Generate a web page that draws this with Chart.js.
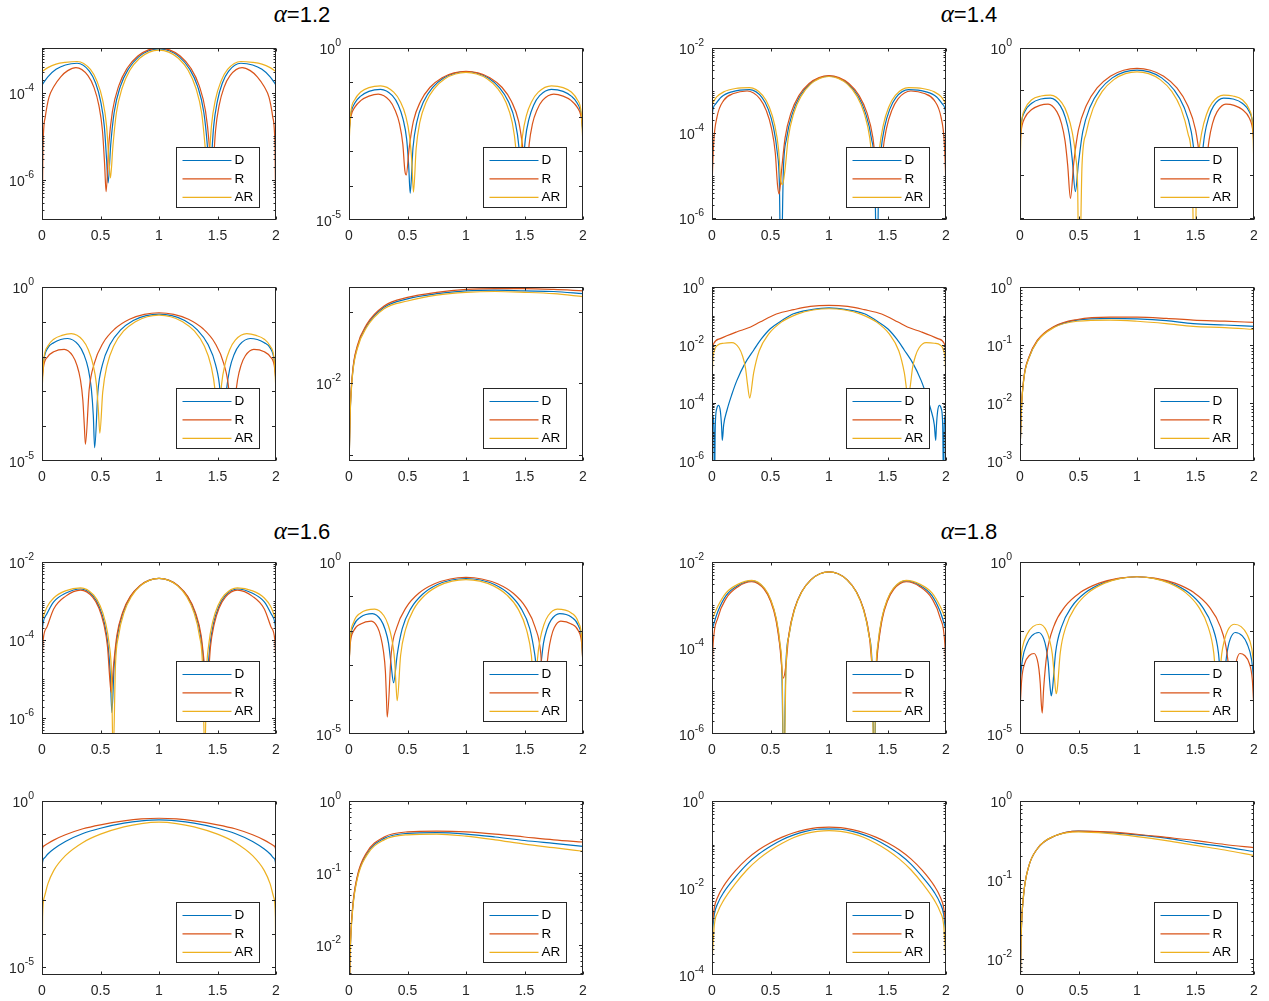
<!DOCTYPE html>
<html>
<head>
<meta charset="utf-8">
<title>D / R / AR panels</title>
<script src="https://cdn.jsdelivr.net/npm/chart.js@4.4.1/dist/chart.umd.min.js"></script>
<style>
  html, body { margin: 0; padding: 0; background: #fff; }
  #page { position: relative; width: 1269px; height: 1001px; overflow: hidden; background: #fff; }
  .panel { position: absolute; }
  .ttl { position: absolute; width: 200px; text-align: center; font: 22px "Liberation Sans", Arial, sans-serif; color: #000; line-height: 26px; }
  .ttl i { font-family: "Liberation Serif", "DejaVu Serif", serif; font-size: 25px; }
</style>
</head>
<body>
<div id="page">
  <div class="ttl" style="left:202px;top:1px"><i>α</i>=1.2</div>
  <div class="ttl" style="left:869px;top:1px"><i>α</i>=1.4</div>
  <div class="ttl" style="left:202px;top:518px"><i>α</i>=1.6</div>
  <div class="ttl" style="left:869px;top:518px"><i>α</i>=1.8</div>
</div>
<script>
// ---- data ----
const seriesNames = ["D", "R", "AR"];
const xTicks = [0, 0.5, 1, 1.5, 2];
const xTickLabels = ["0", "0.5", "1", "1.5", "2"];

// alpha = 1.2
const a12_1_D = [[0,1.51e-4],[0.05,2.34e-4],[0.12,3.47e-4],[0.2,4.37e-4],[0.3,4.79e-4],[0.406,3.13e-4],[0.459,1.66e-4],[0.501,6.49e-5],[0.533,1.68e-5],[0.552,2.95e-6],[0.565,8.5e-7],[0.587,6.31e-6],[0.617,3.59e-5],[0.669,1.39e-4],[0.739,3.54e-4],[0.826,6.7e-4],[0.913,9.25e-4],[1,1.02e-3],[1.087,9.25e-4],[1.174,6.7e-4],[1.261,3.54e-4],[1.331,1.39e-4],[1.383,3.59e-5],[1.413,6.31e-6],[1.435,8.5e-7],[1.448,2.95e-6],[1.467,1.68e-5],[1.499,6.49e-5],[1.541,1.66e-4],[1.594,3.13e-4],[1.7,4.79e-4],[1.8,4.37e-4],[1.88,3.47e-4],[1.95,2.34e-4],[2,1.51e-4]];
const a12_1_R = [[0,3e-8],[0.008,5.01e-6],[0.028,2.82e-5],[0.06,7.94e-5],[0.1,1.38e-4],[0.16,2.34e-4],[0.22,3.24e-4],[0.29,3.8e-4],[0.393,2.49e-4],[0.445,1.32e-4],[0.486,5.15e-5],[0.517,1.33e-5],[0.535,2.34e-6],[0.548,5.37e-7],[0.571,6.61e-6],[0.602,3.76e-5],[0.656,1.45e-4],[0.729,3.71e-4],[0.819,7.01e-4],[0.91,9.68e-4],[1,1.07e-3],[1.09,9.68e-4],[1.181,7.01e-4],[1.271,3.71e-4],[1.344,1.45e-4],[1.398,3.76e-5],[1.429,6.61e-6],[1.452,5.37e-7],[1.465,2.34e-6],[1.483,1.33e-5],[1.514,5.15e-5],[1.555,1.32e-4],[1.607,2.49e-4],[1.71,3.8e-4],[1.78,3.24e-4],[1.84,2.34e-4],[1.9,1.38e-4],[1.94,7.94e-5],[1.972,2.82e-5],[1.992,5.01e-6],[2,3e-8]];
const a12_1_AR = [[0,3.09e-4],[0.05,3.8e-4],[0.12,4.57e-4],[0.2,5.01e-4],[0.3,5.25e-4],[0.414,3.44e-4],[0.471,1.82e-4],[0.517,7.11e-5],[0.551,1.84e-5],[0.571,3.24e-6],[0.585,1.12e-6],[0.606,5.89e-6],[0.635,3.35e-5],[0.685,1.29e-4],[0.751,3.3e-4],[0.834,6.25e-4],[0.917,8.63e-4],[1,9.55e-4],[1.083,8.63e-4],[1.166,6.25e-4],[1.249,3.3e-4],[1.315,1.29e-4],[1.365,3.35e-5],[1.394,5.89e-6],[1.415,1.12e-6],[1.429,3.24e-6],[1.449,1.84e-5],[1.483,7.11e-5],[1.529,1.82e-4],[1.586,3.44e-4],[1.7,5.25e-4],[1.8,5.01e-4],[1.88,4.57e-4],[1.95,3.8e-4],[2,3.09e-4]];

const a12_2_D = [[0,3.16e-3],[0.015,1.12e-2],[0.05,2.51e-2],[0.1,3.98e-2],[0.17,5.5e-2],[0.27,6.31e-2],[0.371,4.13e-2],[0.422,2.18e-2],[0.462,8.55e-3],[0.493,2.21e-3],[0.51,3.89e-4],[0.523,6.03e-5],[0.547,1.26e-3],[0.58,7.16e-3],[0.638,2.77e-2],[0.714,7.06e-2],[0.809,1.34e-1],[0.905,1.85e-1],[1,2.04e-1],[1.095,1.85e-1],[1.191,1.34e-1],[1.286,7.06e-2],[1.362,2.77e-2],[1.42,7.16e-3],[1.453,1.26e-3],[1.477,6.03e-5],[1.49,3.89e-4],[1.507,2.21e-3],[1.538,8.55e-3],[1.578,2.18e-2],[1.629,4.13e-2],[1.73,6.31e-2],[1.83,5.5e-2],[1.9,3.98e-2],[1.95,2.51e-2],[1.985,1.12e-2],[2,3.16e-3]];
const a12_2_R = [[0,3.98e-3],[0.015,1e-2],[0.05,1.91e-2],[0.1,2.95e-2],[0.17,3.98e-2],[0.25,4.57e-2],[0.346,2.99e-2],[0.393,1.58e-2],[0.432,6.19e-3],[0.46,1.6e-3],[0.477,2.82e-4],[0.489,2.04e-4],[0.515,1.29e-3],[0.55,7.33e-3],[0.612,2.83e-2],[0.693,7.23e-2],[0.796,1.37e-1],[0.898,1.89e-1],[1,2.09e-1],[1.102,1.89e-1],[1.204,1.37e-1],[1.307,7.23e-2],[1.388,2.83e-2],[1.45,7.33e-3],[1.485,1.29e-3],[1.511,2.04e-4],[1.523,2.82e-4],[1.54,1.6e-3],[1.568,6.19e-3],[1.607,1.58e-2],[1.654,2.99e-2],[1.75,4.57e-2],[1.83,3.98e-2],[1.9,2.95e-2],[1.95,1.91e-2],[1.985,1e-2],[2,3.98e-3]];
const a12_2_AR = [[0,1.58e-3],[0.015,1.26e-2],[0.05,3.16e-2],[0.1,5.25e-2],[0.17,7.08e-2],[0.27,7.94e-2],[0.382,5.2e-2],[0.439,2.75e-2],[0.484,1.08e-2],[0.517,2.79e-3],[0.537,4.9e-4],[0.551,6.46e-5],[0.574,1.2e-3],[0.605,6.84e-3],[0.659,2.64e-2],[0.731,6.75e-2],[0.82,1.28e-1],[0.91,1.76e-1],[1,1.95e-1],[1.09,1.76e-1],[1.18,1.28e-1],[1.269,6.75e-2],[1.341,2.64e-2],[1.395,6.84e-3],[1.426,1.2e-3],[1.449,6.46e-5],[1.463,4.9e-4],[1.483,2.79e-3],[1.516,1.08e-2],[1.561,2.75e-2],[1.618,5.2e-2],[1.73,7.94e-2],[1.83,7.08e-2],[1.9,5.25e-2],[1.95,3.16e-2],[1.985,1.26e-2],[2,1.58e-3]];

const a12_3_D = [[0,2.51e-3],[0.015,7.94e-3],[0.05,1.78e-2],[0.1,2.51e-2],[0.16,3.09e-2],[0.22,3.31e-2],[0.312,2.17e-2],[0.358,1.15e-2],[0.395,4.49e-3],[0.422,1.16e-3],[0.4385,2.04e-4],[0.45,2.4e-5],[0.478,1.02e-3],[0.516,5.82e-3],[0.582,2.25e-2],[0.67,5.74e-2],[0.78,1.09e-1],[0.89,1.5e-1],[1,1.66e-1],[1.11,1.5e-1],[1.22,1.09e-1],[1.33,5.74e-2],[1.418,2.25e-2],[1.484,5.82e-3],[1.522,1.02e-3],[1.55,2.4e-5],[1.5615,2.04e-4],[1.578,1.16e-3],[1.605,4.49e-3],[1.642,1.15e-2],[1.688,2.17e-2],[1.78,3.31e-2],[1.84,3.09e-2],[1.9,2.51e-2],[1.95,1.78e-2],[1.985,7.94e-3],[2,2.51e-3]];
const a12_3_R = [[0,2e-3],[0.015,5.62e-3],[0.05,1e-2],[0.1,1.38e-2],[0.19,1.62e-2],[0.262,1.06e-2],[0.299,5.61e-3],[0.328,2.2e-3],[0.349,5.69e-4],[0.362,1e-4],[0.371,3.02e-5],[0.403,1.12e-3],[0.447,6.38e-3],[0.522,2.47e-2],[0.623,6.3e-2],[0.748,1.19e-1],[0.874,1.64e-1],[1,1.82e-1],[1.126,1.64e-1],[1.252,1.19e-1],[1.377,6.3e-2],[1.478,2.47e-2],[1.553,6.38e-3],[1.597,1.12e-3],[1.629,3.02e-5],[1.638,1e-4],[1.651,5.69e-4],[1.672,2.2e-3],[1.701,5.61e-3],[1.738,1.06e-2],[1.81,1.62e-2],[1.9,1.38e-2],[1.95,1e-2],[1.985,5.62e-3],[2,2e-3]];
const a12_3_AR = [[0,1e-3],[0.015,7.94e-3],[0.05,2e-2],[0.1,3.16e-2],[0.17,4.07e-2],[0.25,4.57e-2],[0.348,2.99e-2],[0.396,1.58e-2],[0.435,6.19e-3],[0.465,1.6e-3],[0.482,2.82e-4],[0.494,6.31e-5],[0.519,9.55e-4],[0.555,5.43e-3],[0.615,2.1e-2],[0.696,5.36e-2],[0.798,1.01e-1],[0.899,1.4e-1],[1,1.55e-1],[1.101,1.4e-1],[1.202,1.01e-1],[1.304,5.36e-2],[1.385,2.1e-2],[1.445,5.43e-3],[1.481,9.55e-4],[1.506,6.31e-5],[1.518,2.82e-4],[1.535,1.6e-3],[1.565,6.19e-3],[1.604,1.58e-2],[1.652,2.99e-2],[1.75,4.57e-2],[1.83,4.07e-2],[1.9,3.16e-2],[1.95,2e-2],[1.985,7.94e-3],[2,1e-3]];

const a12_4_x = [0,0.01,0.03,0.07,0.15,0.3,0.5,0.75,1,1.25,1.5,1.75,2];
const a12_4_D = [6.31e-4,3.8e-3,1.35e-2,3.16e-2,6.31e-2,1.15e-1,1.51e-1,1.78e-1,1.95e-1,2e-1,1.95e-1,1.91e-1,1.78e-1];
const a12_4_R = [6.31e-4,3.98e-3,1.41e-2,3.31e-2,6.61e-2,1.2e-1,1.58e-1,1.86e-1,2.04e-1,2.09e-1,2.09e-1,2.04e-1,1.95e-1];
const a12_4_AR = [6.31e-4,3.63e-3,1.29e-2,3.02e-2,6.03e-2,1.1e-1,1.41e-1,1.7e-1,1.86e-1,1.91e-1,1.86e-1,1.78e-1,1.62e-1];

// alpha = 1.4
const a14_1_D = [[0,1.78e-4],[0.005,3.16e-4],[0.03,4.79e-4],[0.08,7.08e-4],[0.17,9.33e-4],[0.32,1.05e-3],[0.428,6.85e-4],[0.481,3.62e-4],[0.524,1.42e-4],[0.557,3.67e-5],[0.576,6.46e-6],[0.589,3e-8],[0.61,1.35e-5],[0.638,7.67e-5],[0.688,2.96e-4],[0.753,7.57e-4],[0.836,1.43e-3],[0.918,1.98e-3],[1,2.19e-3],[1.082,1.98e-3],[1.164,1.43e-3],[1.247,7.57e-4],[1.312,2.96e-4],[1.362,7.67e-5],[1.39,1.35e-5],[1.411,3e-8],[1.424,6.46e-6],[1.443,3.67e-5],[1.476,1.42e-4],[1.519,3.62e-4],[1.572,6.85e-4],[1.68,1.05e-3],[1.83,9.33e-4],[1.92,7.08e-4],[1.97,4.79e-4],[1.995,3.16e-4],[2,1.78e-4]];
const a14_1_R = [[0,5.5e-6],[0.014,5.75e-5],[0.043,2.4e-4],[0.1,5.89e-4],[0.185,8.51e-4],[0.3,9.77e-4],[0.41,6.4e-4],[0.464,3.38e-4],[0.508,1.32e-4],[0.541,3.43e-5],[0.56,6.03e-6],[0.574,3.72e-6],[0.595,1.38e-5],[0.625,7.85e-5],[0.676,3.03e-4],[0.744,7.74e-4],[0.83,1.47e-3],[0.915,2.02e-3],[1,2.24e-3],[1.085,2.02e-3],[1.17,1.47e-3],[1.256,7.74e-4],[1.324,3.03e-4],[1.375,7.85e-5],[1.405,1.38e-5],[1.426,3.72e-6],[1.44,6.03e-6],[1.459,3.43e-5],[1.492,1.32e-4],[1.536,3.38e-4],[1.59,6.4e-4],[1.7,9.77e-4],[1.815,8.51e-4],[1.9,5.89e-4],[1.957,2.4e-4],[1.986,5.75e-5],[2,5.5e-6]];
const a14_1_AR = [[0,4.9e-4],[0.04,7.08e-4],[0.1,9.33e-4],[0.2,1.12e-3],[0.32,1.17e-3],[0.433,7.69e-4],[0.49,4.06e-4],[0.535,1.59e-4],[0.569,4.12e-5],[0.589,7.24e-6],[0.603,6.17e-6],[0.623,1.32e-5],[0.651,7.5e-5],[0.698,2.9e-4],[0.762,7.4e-4],[0.841,1.4e-3],[0.921,1.93e-3],[1,2.14e-3],[1.079,1.93e-3],[1.159,1.4e-3],[1.238,7.4e-4],[1.302,2.9e-4],[1.349,7.5e-5],[1.377,1.32e-5],[1.397,6.17e-6],[1.411,7.24e-6],[1.431,4.12e-5],[1.465,1.59e-4],[1.51,4.06e-4],[1.567,7.69e-4],[1.68,1.17e-3],[1.8,1.12e-3],[1.9,9.33e-4],[1.96,7.08e-4],[2,4.9e-4]];

const a14_2_D = [[0,6.31e-3],[0.01,1.58e-2],[0.04,3.16e-2],[0.1,5.01e-2],[0.18,6.31e-2],[0.26,6.61e-2],[0.345,4.33e-2],[0.388,2.29e-2],[0.422,8.95e-3],[0.447,2.32e-3],[0.473,4.17e-4],[0.499,1.86e-3],[0.536,1.06e-2],[0.599,4.09e-2],[0.684,1.04e-1],[0.789,1.98e-1],[0.895,2.73e-1],[1,3.02e-1],[1.105,2.73e-1],[1.211,1.98e-1],[1.316,1.04e-1],[1.401,4.09e-2],[1.464,1.06e-2],[1.501,1.86e-3],[1.527,4.17e-4],[1.553,2.32e-3],[1.578,8.95e-3],[1.612,2.29e-2],[1.655,4.33e-2],[1.74,6.61e-2],[1.82,6.31e-2],[1.9,5.01e-2],[1.96,3.16e-2],[1.99,1.58e-2],[2,6.31e-3]];
const a14_2_R = [[0,5.01e-3],[0.01,1.12e-2],[0.04,2.24e-2],[0.1,3.55e-2],[0.17,4.47e-2],[0.24,4.79e-2],[0.316,3.13e-2],[0.355,1.66e-2],[0.385,6.49e-3],[0.408,1.68e-3],[0.431,2.88e-4],[0.46,2.04e-3],[0.499,1.16e-2],[0.568,4.49e-2],[0.659,1.15e-1],[0.772,2.17e-1],[0.886,2.99e-1],[1,3.31e-1],[1.114,2.99e-1],[1.228,2.17e-1],[1.341,1.15e-1],[1.432,4.49e-2],[1.501,1.16e-2],[1.54,2.04e-3],[1.569,2.88e-4],[1.592,1.68e-3],[1.615,6.49e-3],[1.645,1.66e-2],[1.684,3.13e-2],[1.76,4.79e-2],[1.83,4.47e-2],[1.9,3.55e-2],[1.96,2.24e-2],[1.99,1.12e-2],[2,5.01e-3]];
const a14_2_AR = [[0,1.26e-3],[0.01,1.26e-2],[0.04,3.55e-2],[0.1,6.03e-2],[0.18,7.41e-2],[0.26,7.76e-2],[0.358,5.08e-2],[0.407,2.69e-2],[0.446,1.05e-2],[0.476,2.72e-3],[0.493,4.79e-4],[0.505,1e-6],[0.53,1.7e-3],[0.564,9.66e-3],[0.624,3.73e-2],[0.703,9.53e-2],[0.802,1.8e-1],[0.901,2.49e-1],[1,2.75e-1],[1.099,2.49e-1],[1.198,1.8e-1],[1.297,9.53e-2],[1.376,3.73e-2],[1.436,9.66e-3],[1.47,1.7e-3],[1.495,1e-6],[1.507,4.79e-4],[1.524,2.72e-3],[1.554,1.05e-2],[1.593,2.69e-2],[1.642,5.08e-2],[1.74,7.76e-2],[1.82,7.41e-2],[1.9,6.03e-2],[1.96,3.55e-2],[1.99,1.26e-2],[2,1.26e-3]];

const a14_3_D = [[0,3.16e-5],[0.008,3.55e-5],[0.016,1e-5],[0.021,1e-7],[0.028,1.58e-5],[0.04,6.31e-5],[0.057,8.32e-5],[0.072,5.01e-5],[0.082,1.58e-5],[0.088,5.13e-6],[0.1,1.78e-5],[0.128,5.62e-5],[0.17,2e-4],[0.213,6.03e-4],[0.28,2.24e-3],[0.356,6.61e-3],[0.42,1.58e-2],[0.498,3.63e-2],[0.6,7.08e-2],[0.697,1.2e-1],[0.85,1.66e-1],[1,1.91e-1],[1.15,1.66e-1],[1.303,1.2e-1],[1.4,7.08e-2],[1.502,3.63e-2],[1.58,1.58e-2],[1.644,6.61e-3],[1.72,2.24e-3],[1.787,6.03e-4],[1.83,2e-4],[1.872,5.62e-5],[1.9,1.78e-5],[1.912,5.13e-6],[1.918,1.58e-5],[1.928,5.01e-5],[1.943,8.32e-5],[1.96,6.31e-5],[1.972,1.58e-5],[1.979,1e-7],[1.984,1e-5],[1.992,3.55e-5],[2,3.16e-5]];
const a14_3_R = [[0,2.51e-3],[0.005,7.08e-3],[0.015,1.12e-2],[0.07,1.66e-2],[0.21,2.82e-2],[0.33,4.17e-2],[0.41,6.17e-2],[0.55,1.17e-1],[0.7,1.66e-1],[0.84,2.14e-1],[1,2.34e-1],[1.16,2.14e-1],[1.3,1.66e-1],[1.45,1.17e-1],[1.59,6.17e-2],[1.67,4.17e-2],[1.79,2.82e-2],[1.93,1.66e-2],[1.985,1.12e-2],[1.995,7.08e-3],[2,2.51e-3]];
const a14_3_AR = [[0,3.55e-4],[0.006,2.51e-3],[0.02,6.31e-3],[0.05,1e-2],[0.1,1.15e-2],[0.17,1.2e-2],[0.231,7.87e-3],[0.261,4.16e-3],[0.286,1.63e-3],[0.304,4.22e-4],[0.322,1.48e-4],[0.356,1.1e-3],[0.403,6.24e-3],[0.485,2.41e-2],[0.593,6.15e-2],[0.729,1.16e-1],[0.864,1.61e-1],[1,1.78e-1],[1.136,1.61e-1],[1.271,1.16e-1],[1.407,6.15e-2],[1.515,2.41e-2],[1.597,6.24e-3],[1.644,1.1e-3],[1.678,1.48e-4],[1.696,4.22e-4],[1.714,1.63e-3],[1.739,4.16e-3],[1.769,7.87e-3],[1.83,1.2e-2],[1.9,1.15e-2],[1.95,1e-2],[1.98,6.31e-3],[1.994,2.51e-3],[2,3.55e-4]];

const a14_4_x = [0,0.011,0.034,0.076,0.147,0.29,0.49,0.77,1,1.25,1.48,1.75,2];
const a14_4_D = [1.26e-3,7.24e-3,2.75e-2,6.03e-2,1.17e-1,2.04e-1,2.69e-1,2.88e-1,2.82e-1,2.63e-1,2.34e-1,2.21e-1,2.09e-1];
const a14_4_R = [1.26e-3,7.41e-3,2.82e-2,6.17e-2,1.2e-1,2.09e-1,2.75e-1,3.02e-1,3.02e-1,2.88e-1,2.69e-1,2.57e-1,2.45e-1];
const a14_4_AR = [1.26e-3,7.08e-3,2.69e-2,5.89e-2,1.15e-1,2e-1,2.57e-1,2.69e-1,2.57e-1,2.34e-1,2.09e-1,2e-1,1.86e-1];

// alpha = 1.6
const a16_1_D = [[0,1.58e-4],[0.01,2.82e-4],[0.043,4.79e-4],[0.1,9.55e-4],[0.2,1.58e-3],[0.33,2.04e-3],[0.437,1.34e-3],[0.49,7.06e-4],[0.533,2.77e-4],[0.565,7.16e-5],[0.584,1.26e-5],[0.597,1.41e-6],[0.617,2.34e-5],[0.645,1.33e-4],[0.694,5.15e-4],[0.758,1.32e-3],[0.839,2.49e-3],[0.919,3.44e-3],[1,3.8e-3],[1.081,3.44e-3],[1.161,2.49e-3],[1.242,1.32e-3],[1.306,5.15e-4],[1.355,1.33e-4],[1.383,2.34e-5],[1.403,1.41e-6],[1.416,1.26e-5],[1.435,7.16e-5],[1.467,2.77e-4],[1.51,7.06e-4],[1.563,1.34e-3],[1.67,2.04e-3],[1.8,1.58e-3],[1.9,9.55e-4],[1.957,4.79e-4],[1.99,2.82e-4],[2,1.58e-4]];
const a16_1_R = [[0,2.51e-5],[0.01,1e-4],[0.043,2.19e-4],[0.1,6.31e-4],[0.2,1.32e-3],[0.33,1.91e-3],[0.434,1.25e-3],[0.487,6.59e-4],[0.528,2.58e-4],[0.56,6.68e-5],[0.578,1.17e-5],[0.591,4.57e-6],[0.612,2.34e-5],[0.64,1.33e-4],[0.689,5.15e-4],[0.755,1.32e-3],[0.836,2.49e-3],[0.918,3.44e-3],[1,3.8e-3],[1.082,3.44e-3],[1.164,2.49e-3],[1.245,1.32e-3],[1.311,5.15e-4],[1.36,1.33e-4],[1.388,2.34e-5],[1.409,4.57e-6],[1.422,1.17e-5],[1.44,6.68e-5],[1.472,2.58e-4],[1.513,6.59e-4],[1.566,1.25e-3],[1.67,1.91e-3],[1.8,1.32e-3],[1.9,6.31e-4],[1.957,2.19e-4],[1.99,1e-4],[2,2.51e-5]];
const a16_1_AR = [[0,3.24e-4],[0.043,7.08e-4],[0.1,1.2e-3],[0.2,1.82e-3],[0.33,2.19e-3],[0.441,1.43e-3],[0.497,7.57e-4],[0.541,2.96e-4],[0.575,7.67e-5],[0.594,1.35e-5],[0.608,1e-7],[0.628,2.34e-5],[0.655,1.33e-4],[0.702,5.15e-4],[0.765,1.32e-3],[0.843,2.49e-3],[0.922,3.44e-3],[1,3.8e-3],[1.078,3.44e-3],[1.157,2.49e-3],[1.235,1.32e-3],[1.298,5.15e-4],[1.345,1.33e-4],[1.372,2.34e-5],[1.392,1e-7],[1.406,1.35e-5],[1.425,7.67e-5],[1.459,2.96e-4],[1.503,7.57e-4],[1.559,1.43e-3],[1.67,2.19e-3],[1.8,1.82e-3],[1.9,1.2e-3],[1.957,7.08e-4],[2,3.24e-4]];

const a16_2_D = [[0,1e-3],[0.01,5.01e-3],[0.04,1.41e-2],[0.1,2.51e-2],[0.2,3.16e-2],[0.272,2.07e-2],[0.309,1.09e-2],[0.338,4.29e-3],[0.359,1.11e-3],[0.381,3.09e-4],[0.412,2.04e-3],[0.455,1.16e-2],[0.53,4.49e-2],[0.629,1.15e-1],[0.752,2.17e-1],[0.876,2.99e-1],[1,3.31e-1],[1.124,2.99e-1],[1.248,2.17e-1],[1.371,1.15e-1],[1.47,4.49e-2],[1.545,1.16e-2],[1.588,2.04e-3],[1.619,3.09e-4],[1.641,1.11e-3],[1.662,4.29e-3],[1.691,1.09e-2],[1.728,2.07e-2],[1.8,3.16e-2],[1.9,2.51e-2],[1.96,1.41e-2],[1.99,5.01e-3],[2,1e-3]];
const a16_2_R = [[0,1e-3],[0.01,3.98e-3],[0.04,1e-2],[0.1,1.58e-2],[0.19,1.91e-2],[0.245,1.25e-2],[0.272,6.59e-3],[0.294,2.58e-3],[0.311,6.68e-4],[0.32,1.17e-4],[0.327,3.09e-5],[0.361,2.19e-3],[0.408,1.24e-2],[0.489,4.81e-2],[0.596,1.23e-1],[0.731,2.32e-1],[0.865,3.21e-1],[1,3.55e-1],[1.135,3.21e-1],[1.269,2.32e-1],[1.404,1.23e-1],[1.511,4.81e-2],[1.592,1.24e-2],[1.639,2.19e-3],[1.673,3.09e-5],[1.68,1.17e-4],[1.689,6.68e-4],[1.706,2.58e-3],[1.728,6.59e-3],[1.755,1.25e-2],[1.81,1.91e-2],[1.9,1.58e-2],[1.96,1e-2],[1.99,3.98e-3],[2,1e-3]];
const a16_2_AR = [[0,7.94e-4],[0.01,5.62e-3],[0.04,1.78e-2],[0.1,3.31e-2],[0.22,4.27e-2],[0.297,2.79e-2],[0.335,1.48e-2],[0.366,5.78e-3],[0.389,1.5e-3],[0.402,2.63e-4],[0.412,9.33e-5],[0.441,1.91e-3],[0.483,1.08e-2],[0.553,4.19e-2],[0.647,1.07e-1],[0.765,2.02e-1],[0.882,2.79e-1],[1,3.09e-1],[1.118,2.79e-1],[1.235,2.02e-1],[1.353,1.07e-1],[1.447,4.19e-2],[1.517,1.08e-2],[1.559,1.91e-3],[1.588,9.33e-5],[1.598,2.63e-4],[1.611,1.5e-3],[1.634,5.78e-3],[1.665,1.48e-2],[1.703,2.79e-2],[1.78,4.27e-2],[1.9,3.31e-2],[1.96,1.78e-2],[1.99,5.62e-3],[2,7.94e-4]];

const a16_3_x = [0,0.005,0.02,0.05,0.1,0.2,0.35,0.5,0.7,0.85,1,1.15,1.3,1.5,1.65,1.8,1.9,1.95,1.98,1.995,2];
const a16_3_D = [6.31e-3,1.45e-2,1.91e-2,2.51e-2,3.55e-2,6.03e-2,1.05e-1,1.51e-1,2.14e-1,2.51e-1,2.69e-1,2.51e-1,2.14e-1,1.51e-1,1.05e-1,6.03e-2,3.55e-2,2.51e-2,1.91e-2,1.45e-2,6.31e-3];
const a16_3_R = [2.51e-2,3.8e-2,4.47e-2,5.25e-2,6.61e-2,9.55e-2,1.45e-1,1.91e-1,2.51e-1,2.88e-1,3.02e-1,2.88e-1,2.51e-1,1.91e-1,1.45e-1,9.55e-2,6.61e-2,5.25e-2,4.47e-2,3.8e-2,2.51e-2];
const a16_3_AR = [1e-6,3.16e-4,1.26e-3,3.16e-3,7.94e-3,2.24e-2,5.62e-2,1e-1,1.66e-1,2.09e-1,2.29e-1,2.09e-1,1.66e-1,1e-1,5.62e-2,2.24e-2,7.94e-3,3.16e-3,1.26e-3,3.16e-4,1e-6];

const a16_4_x = [0,0.01,0.03,0.07,0.15,0.3,0.5,0.75,1,1.25,1.5,1.75,2];
const a16_4_D = [1e-3,7.59e-3,3.02e-2,8.51e-2,1.82e-1,3.02e-1,3.55e-1,3.63e-1,3.47e-1,3.16e-1,2.82e-1,2.57e-1,2.34e-1];
const a16_4_R = [1e-3,7.94e-3,3.16e-2,8.91e-2,1.91e-1,3.16e-1,3.72e-1,3.8e-1,3.72e-1,3.47e-1,3.16e-1,2.88e-1,2.69e-1];
const a16_4_AR = [1e-3,7.24e-3,2.88e-2,8.13e-2,1.74e-1,2.88e-1,3.39e-1,3.47e-1,3.24e-1,2.88e-1,2.51e-1,2.24e-1,2e-1];

// alpha = 1.8
const a18_1_D = [[0,2.69e-4],[0.05,7.08e-4],[0.12,1.66e-3],[0.22,2.82e-3],[0.34,3.63e-3],[0.449,2.38e-3],[0.503,1.26e-3],[0.547,4.92e-4],[0.579,1.27e-4],[0.598,2.24e-5],[0.612,1e-7],[0.631,3.63e-5],[0.659,2.07e-4],[0.705,7.98e-4],[0.767,2.04e-3],[0.845,3.85e-3],[0.922,5.32e-3],[1,5.89e-3],[1.078,5.32e-3],[1.155,3.85e-3],[1.233,2.04e-3],[1.295,7.98e-4],[1.341,2.07e-4],[1.369,3.63e-5],[1.388,1e-7],[1.402,2.24e-5],[1.421,1.27e-4],[1.453,4.92e-4],[1.497,1.26e-3],[1.551,2.38e-3],[1.66,3.63e-3],[1.78,2.82e-3],[1.88,1.66e-3],[1.95,7.08e-4],[2,2.69e-4]];
const a18_1_R = [[0,2.51e-5],[0.01,1.26e-4],[0.05,5.01e-4],[0.12,1.41e-3],[0.22,2.63e-3],[0.34,3.47e-3],[0.448,2.27e-3],[0.502,1.2e-3],[0.545,4.7e-4],[0.578,1.22e-4],[0.61,2e-5],[0.63,3.63e-5],[0.657,2.07e-4],[0.704,7.98e-4],[0.766,2.04e-3],[0.844,3.85e-3],[0.922,5.32e-3],[1,5.89e-3],[1.078,5.32e-3],[1.156,3.85e-3],[1.234,2.04e-3],[1.296,7.98e-4],[1.343,2.07e-4],[1.37,3.63e-5],[1.39,2e-5],[1.422,1.22e-4],[1.455,4.7e-4],[1.498,1.2e-3],[1.552,2.27e-3],[1.66,3.47e-3],[1.78,2.63e-3],[1.88,1.41e-3],[1.95,5.01e-4],[1.99,1.26e-4],[2,2.51e-5]];
const a18_1_AR = [[0,4.57e-4],[0.05,9.33e-4],[0.12,1.91e-3],[0.22,3.02e-3],[0.34,3.72e-3],[0.45,2.43e-3],[0.504,1.29e-3],[0.548,5.04e-4],[0.581,1.3e-4],[0.6,2.29e-5],[0.614,1e-7],[0.633,3.63e-5],[0.66,2.07e-4],[0.707,7.98e-4],[0.768,2.04e-3],[0.846,3.85e-3],[0.923,5.32e-3],[1,5.89e-3],[1.077,5.32e-3],[1.154,3.85e-3],[1.232,2.04e-3],[1.293,7.98e-4],[1.34,2.07e-4],[1.367,3.63e-5],[1.386,1e-7],[1.4,2.29e-5],[1.419,1.3e-4],[1.452,5.04e-4],[1.496,1.29e-3],[1.55,2.43e-3],[1.66,3.72e-3],[1.78,3.02e-3],[1.88,1.91e-3],[1.95,9.33e-4],[2,4.57e-4]];

const a18_2_D = [[0,3.02e-4],[0.02,1.41e-3],[0.06,4.27e-3],[0.1,7.08e-3],[0.16,8.91e-3],[0.203,5.83e-3],[0.224,3.08e-3],[0.241,1.21e-3],[0.254,3.13e-4],[0.267,1.29e-4],[0.278,2.09e-4],[0.304,2.29e-3],[0.355,1.3e-2],[0.443,5.04e-2],[0.56,1.29e-1],[0.707,2.43e-1],[0.853,3.36e-1],[1,3.72e-1],[1.147,3.36e-1],[1.293,2.43e-1],[1.44,1.29e-1],[1.557,5.04e-2],[1.645,1.3e-2],[1.696,2.29e-3],[1.722,2.09e-4],[1.733,1.29e-4],[1.746,3.13e-4],[1.759,1.21e-3],[1.776,3.08e-3],[1.797,5.83e-3],[1.84,8.91e-3],[1.9,7.08e-3],[1.94,4.27e-3],[1.98,1.41e-3],[2,3.02e-4]];
const a18_2_R = [[0,5.01e-5],[0.015,3.98e-4],[0.04,1.12e-3],[0.08,1.91e-3],[0.12,2.19e-3],[0.148,1.43e-3],[0.162,7.57e-4],[0.173,2.96e-4],[0.182,7.67e-5],[0.19,4.07e-5],[0.202,2.09e-4],[0.231,2.29e-3],[0.287,1.3e-2],[0.384,5.04e-2],[0.514,1.29e-1],[0.676,2.43e-1],[0.838,3.36e-1],[1,3.72e-1],[1.162,3.36e-1],[1.324,2.43e-1],[1.486,1.29e-1],[1.616,5.04e-2],[1.713,1.3e-2],[1.769,2.29e-3],[1.798,2.09e-4],[1.81,4.07e-5],[1.818,7.67e-5],[1.827,2.96e-4],[1.838,7.57e-4],[1.852,1.43e-3],[1.88,2.19e-3],[1.92,1.91e-3],[1.96,1.12e-3],[1.985,3.98e-4],[2,5.01e-5]];
const a18_2_AR = [[0,9.12e-4],[0.02,3.16e-3],[0.06,7.94e-3],[0.11,1.32e-2],[0.17,1.55e-2],[0.226,1.01e-2],[0.253,5.36e-3],[0.276,2.1e-3],[0.292,5.43e-4],[0.309,1.48e-4],[0.319,2.09e-4],[0.344,2.29e-3],[0.392,1.3e-2],[0.475,5.04e-2],[0.585,1.29e-1],[0.724,2.43e-1],[0.862,3.36e-1],[1,3.72e-1],[1.138,3.36e-1],[1.276,2.43e-1],[1.415,1.29e-1],[1.525,5.04e-2],[1.608,1.3e-2],[1.656,2.29e-3],[1.681,2.09e-4],[1.691,1.48e-4],[1.708,5.43e-4],[1.724,2.1e-3],[1.747,5.36e-3],[1.774,1.01e-2],[1.83,1.55e-2],[1.89,1.32e-2],[1.94,7.94e-3],[1.98,3.16e-3],[2,9.12e-4]];

const a18_3_x = [0,0.02,0.05,0.1,0.2,0.3,0.4,0.5,0.6,0.7,0.8,0.9,1,1.1,1.2,1.3,1.4,1.5,1.6,1.7,1.8,1.9,1.95,1.98,2];
const a18_3_D = [7.94e-4,2.51e-3,4.47e-3,7.94e-3,1.78e-2,3.55e-2,6.03e-2,9.12e-2,1.29e-1,1.66e-1,2e-1,2.24e-1,2.29e-1,2.24e-1,2e-1,1.66e-1,1.29e-1,9.12e-2,6.03e-2,3.55e-2,1.78e-2,7.94e-3,4.47e-3,2.51e-3,7.94e-4];
const a18_3_R = [1.26e-3,3.55e-3,6.31e-3,1.12e-2,2.51e-2,4.68e-2,7.59e-2,1.1e-1,1.48e-1,1.86e-1,2.19e-1,2.45e-1,2.51e-1,2.45e-1,2.19e-1,1.86e-1,1.48e-1,1.1e-1,7.59e-2,4.68e-2,2.51e-2,1.12e-2,6.31e-3,3.55e-3,1.26e-3];
const a18_3_AR = [2e-4,1.41e-3,2.82e-3,5.25e-3,1.26e-2,2.63e-2,4.68e-2,7.41e-2,1.07e-1,1.45e-1,1.78e-1,2e-1,2.09e-1,2e-1,1.78e-1,1.45e-1,1.07e-1,7.41e-2,4.68e-2,2.63e-2,1.26e-2,5.25e-3,2.82e-3,1.41e-3,2e-4];

const a18_4_x = [0,0.01,0.03,0.07,0.15,0.3,0.5,0.75,1,1.25,1.5,1.75,2];
const a18_4_D = [3.16e-3,2e-2,6.31e-2,1.41e-1,2.51e-1,3.63e-1,4.17e-1,3.98e-1,3.72e-1,3.39e-1,2.95e-1,2.63e-1,2.29e-1];
const a18_4_R = [3.16e-3,2e-2,6.31e-2,1.41e-1,2.51e-1,3.63e-1,4.17e-1,4.07e-1,3.8e-1,3.47e-1,3.16e-1,2.82e-1,2.57e-1];
const a18_4_AR = [3.16e-3,2e-2,6.31e-2,1.41e-1,2.51e-1,3.63e-1,4.07e-1,3.89e-1,3.55e-1,3.16e-1,2.75e-1,2.4e-1,2.04e-1];

// ---- layout ----
const colLeft = [42, 349, 712, 1020];
const rowTop = [48, 287, 562, 801];
const rowH = [172, 174, 172, 174];
const boxW = 234;
const PAD = { left: 52, right: 8, top: 12, bottom: 28 };
const colors = ["#0072BD", "#D95319", "#EDB120"];

function pairs(xs, ys) {
  return xs.map((x, i) => [x, ys[i]]);
}

// lo/hi are log10 axis limits; lab = labelled decades
const panels = [
  { c: 0, r: 0, lo: -6.92, hi: -2.97, lab: [-6, -4], minor: true, s: [a12_1_D, a12_1_R, a12_1_AR] },
  { c: 1, r: 0, lo: -5, hi: 0, lab: [-5, 0], minor: false, s: [a12_2_D, a12_2_R, a12_2_AR] },
  { c: 0, r: 1, lo: -5, hi: 0, lab: [-5, 0], minor: false, s: [a12_3_D, a12_3_R, a12_3_AR] },
  { c: 1, r: 1, lo: -3.08, hi: -0.656, lab: [-2], minor: false,
    s: [pairs(a12_4_x, a12_4_D), pairs(a12_4_x, a12_4_R), pairs(a12_4_x, a12_4_AR)] },

  { c: 2, r: 0, lo: -6.04, hi: -2, lab: [-6, -4, -2], minor: true, s: [a14_1_D, a14_1_R, a14_1_AR] },
  { c: 3, r: 0, lo: -4.05, hi: 0, lab: [0], minor: false, s: [a14_2_D, a14_2_R, a14_2_AR] },
  { c: 2, r: 1, lo: -6, hi: 0, lab: [-6, -4, -2, 0], minor: true, s: [a14_3_D, a14_3_R, a14_3_AR] },
  { c: 3, r: 1, lo: -3, hi: 0, lab: [-3, -2, -1, 0], minor: true,
    s: [pairs(a14_4_x, a14_4_D), pairs(a14_4_x, a14_4_R), pairs(a14_4_x, a14_4_AR)] },

  { c: 0, r: 2, lo: -6.4, hi: -2, lab: [-6, -4, -2], minor: true, s: [a16_1_D, a16_1_R, a16_1_AR] },
  { c: 1, r: 2, lo: -5, hi: 0, lab: [-5, 0], minor: false, s: [a16_2_D, a16_2_R, a16_2_AR] },
  { c: 0, r: 3, lo: -5.25, hi: 0, lab: [-5, 0], minor: false,
    s: [pairs(a16_3_x, a16_3_D), pairs(a16_3_x, a16_3_R), pairs(a16_3_x, a16_3_AR)] },
  { c: 1, r: 3, lo: -2.42, hi: 0, lab: [-2, -1, 0], minor: true,
    s: [pairs(a16_4_x, a16_4_D), pairs(a16_4_x, a16_4_R), pairs(a16_4_x, a16_4_AR)] },

  { c: 2, r: 2, lo: -6, hi: -2, lab: [-6, -4, -2], minor: true, s: [a18_1_D, a18_1_R, a18_1_AR] },
  { c: 3, r: 2, lo: -5, hi: 0, lab: [-5, 0], minor: false, s: [a18_2_D, a18_2_R, a18_2_AR] },
  { c: 2, r: 3, lo: -4, hi: 0, lab: [-4, -2, 0], minor: true,
    s: [pairs(a18_3_x, a18_3_D), pairs(a18_3_x, a18_3_R), pairs(a18_3_x, a18_3_AR)] },
  { c: 3, r: 3, lo: -2.2, hi: 0, lab: [-2, -1, 0], minor: true,
    s: [pairs(a18_4_x, a18_4_D), pairs(a18_4_x, a18_4_R), pairs(a18_4_x, a18_4_AR)] },
];

// MATLAB-like box axes: inward ticks on all sides, 10^n labels, boxed legend
const matlabAxes = {
  id: "matlabAxes",
  afterDatasetsDraw(chart, args, o) {
    const { ctx, chartArea: a } = chart;
    const xs = chart.scales.x, ys = chart.scales.y;
    const L = Math.round(a.left) + 0.5, R = Math.round(a.right) - 0.5;
    const T = Math.round(a.top) + 0.5, B = Math.round(a.bottom) - 0.5;
    const axisCol = "#262626";
    const baseFont = '14px "Liberation Sans", Arial, sans-serif';
    const expFont = '10.5px "Liberation Sans", Arial, sans-serif';
    ctx.save();
    ctx.strokeStyle = axisCol;
    ctx.lineWidth = 1;

    ctx.beginPath();
    for (const v of xTicks) {
      const px = Math.round(xs.getPixelForValue(v)) + 0.5;
      ctx.moveTo(px, B); ctx.lineTo(px, B - 3);
      ctx.moveTo(px, T); ctx.lineTo(px, T + 3);
    }
    const yTick = (e, len) => {
      const py = Math.round(ys.getPixelForValue(Math.pow(10, e))) + 0.5;
      if (py < T - 0.6 || py > B + 0.6) return;
      ctx.moveTo(L, py); ctx.lineTo(L + len, py);
      ctx.moveTo(R, py); ctx.lineTo(R - len, py);
    };
    for (let d = Math.floor(o.lo); d <= Math.ceil(o.hi); d++) {
      const major = o.minor ? o.lab.includes(d) : true;
      yTick(d, major ? 3.5 : 2);
      if (o.minor) {
        for (let m = 2; m <= 9; m++) yTick(d + Math.log10(m), 2);
      }
    }
    ctx.stroke();
    ctx.strokeRect(L, T, R - L, B - T);

    // tick labels
    ctx.fillStyle = axisCol;
    ctx.font = baseFont;
    ctx.textAlign = "center";
    ctx.textBaseline = "middle";
    xTicks.forEach((v, i) => ctx.fillText(xTickLabels[i], xs.getPixelForValue(v), a.bottom + 16));

    ctx.textAlign = "left";
    for (const e of o.lab) {
      const py = ys.getPixelForValue(Math.pow(10, e));
      const expTxt = String(e);
      ctx.font = expFont;
      const wExp = ctx.measureText(expTxt).width;
      ctx.font = baseFont;
      const wBase = ctx.measureText("10").width;
      const right = a.left - 8;
      ctx.fillText("10", right - wExp - wBase, py + 2);
      ctx.font = expFont;
      ctx.fillText(expTxt, right - wExp, py - 5);
    }

    // legend (south-east, opaque)
    const lw = 83, lh = 60;
    const lx = Math.round(a.right) - 17 - lw + 0.5;
    const ly = Math.round(a.bottom) - 13 - lh + 0.5;
    ctx.fillStyle = "#fff";
    ctx.fillRect(lx, ly, lw, lh);
    ctx.strokeStyle = axisCol;
    ctx.lineWidth = 1;
    ctx.strokeRect(lx, ly, lw, lh);
    ctx.font = '13.5px "Liberation Sans", Arial, sans-serif';
    seriesNames.forEach((n, i) => {
      const yy = ly + 13 + i * 18.4;
      ctx.strokeStyle = colors[i];
      ctx.lineWidth = 1.2;
      ctx.beginPath();
      ctx.moveTo(lx + 6, yy); ctx.lineTo(lx + 55, yy);
      ctx.stroke();
      ctx.fillStyle = "#000";
      ctx.fillText(n, lx + 58, yy);
    });
    ctx.restore();
  }
};

const page = document.getElementById("page");
panels.forEach((p) => {
  const h = rowH[p.r];
  const wrap = document.createElement("div");
  wrap.className = "panel";
  wrap.style.left = (colLeft[p.c] - PAD.left) + "px";
  wrap.style.top = (rowTop[p.r] - PAD.top) + "px";
  const cv = document.createElement("canvas");
  const W = boxW + PAD.left + PAD.right, H = h + PAD.top + PAD.bottom;
  cv.width = W; cv.height = H;
  cv.style.width = W + "px"; cv.style.height = H + "px";
  wrap.appendChild(cv);
  page.appendChild(wrap);

  new Chart(cv, {
    type: "line",
    data: {
      datasets: p.s.map((d, i) => ({
        label: seriesNames[i],
        data: d,
        borderColor: colors[i],
        borderWidth: 1.2,
        pointRadius: 0,
        cubicInterpolationMode: "monotone",
        fill: false,
        order: 3 - i
      }))
    },
    options: {
      responsive: false,
      animation: false,
      devicePixelRatio: 1,
      layout: { padding: PAD },
      plugins: {
        legend: { display: false },
        tooltip: { enabled: false },
        matlabAxes: { lo: p.lo, hi: p.hi, lab: p.lab, minor: p.minor }
      },
      scales: {
        x: { type: "linear", min: 0, max: 2, display: false },
        y: { type: "logarithmic", min: Math.pow(10, p.lo), max: Math.pow(10, p.hi), display: false }
      }
    },
    plugins: [matlabAxes]
  });
});
</script>
</body>
</html>
